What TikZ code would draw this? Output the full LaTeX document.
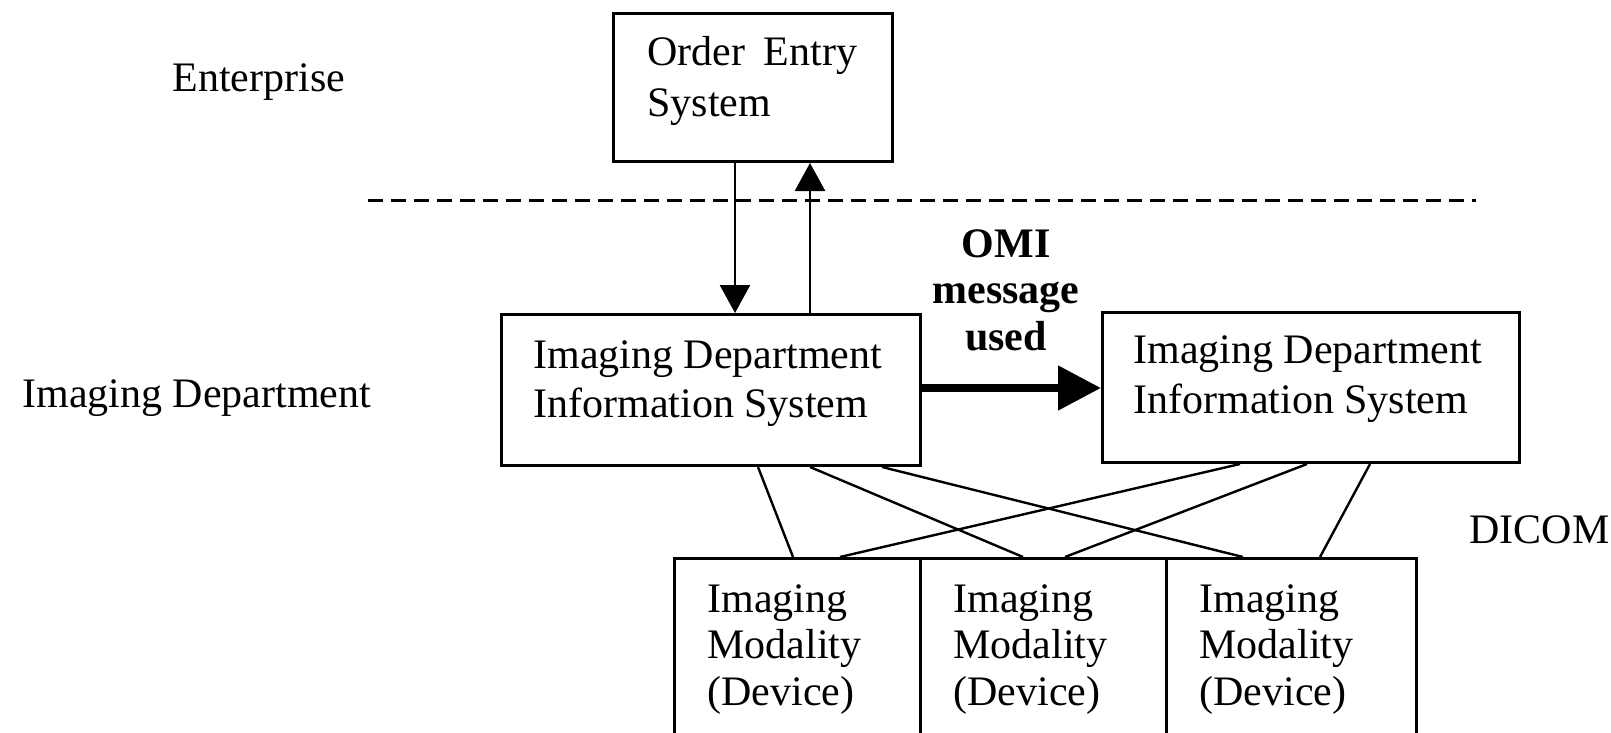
\documentclass[tikz,border=0pt]{standalone}
\usepackage{fontspec}
\setmainfont{Liberation Serif}
\usetikzlibrary{arrows.meta,calc}
\begin{document}
\begin{tikzpicture}[x=0.5pt,y=-0.5pt,
  box/.style={draw,line width=1.5pt,inner sep=0,anchor=north west},
  txt/.style={inner sep=0,anchor=base west,font=\fontsize{21}{24}\selectfont},
  btxt/.style={inner sep=0,anchor=base,font=\fontsize{21}{24}\selectfont\bfseries},
  sarrow/.style={line width=1.3pt,-{Triangle[length=14pt,width=15pt]}},
  barrow/.style={line width=4pt,-{Triangle[length=21.5pt,width=21.5pt]}},
  link/.style={line width=1.2pt},
  sep/.style={line width=1.5pt,dash pattern=on 7.5pt off 4pt}
]
\useasboundingbox (0,0) rectangle (1611,733);
\clip (0,0) rectangle (1611,733);

% boxes
\node[box,minimum width=139.5pt,minimum height=74pt] (oe) at (612,12) {};
\node[box,minimum width=209.5pt,minimum height=75.5pt] (idis1) at (500,313) {};
\node[box,minimum width=208.5pt,minimum height=75pt] (idis2) at (1101,311) {};
\node[box,minimum width=123pt,minimum height=125pt] (m1) at (673,557) {};
\node[box,minimum width=123pt,minimum height=125pt] (m2) at (919,557) {};
\node[box,minimum width=125pt,minimum height=125pt] (m3) at (1165,557) {};

% texts
\node[txt] (tent) at (172,92) {Enterprise};
\node[txt] (timg) at (22,407) {Imaging Department};
\node[txt] (tdic) at (1469,543) {DICOM};
\node[txt] (oe1) at (647,66) {Order\hspace{0.44em}Entry};
\node[txt] (oe2) at (647,117) {System};
\node[txt] (a1) at (533,368) {Imaging Department};
\node[txt] (a2) at (533,417) {Information System};
\node[txt] (b1) at (1133,363) {Imaging Department};
\node[txt] (b2) at (1133,413) {Information System};
\foreach \x/\n in {707/p,953/q,1199/r}{
  \node[txt] (\n1) at (\x,612) {Imaging};
  \node[txt] (\n2) at (\x,658) {Modality};
  \node[txt] (\n3) at (\x,705) {(Device)};
}
\node[btxt] (omi1) at (1006,257) {OMI};
\node[btxt] (omi2) at (1006,303) {message};
\node[btxt] (omi3) at (1006,350) {used};

% dashed separator
\coordinate (dl) at (368,200);
\coordinate (dr) at (1476,200);
\draw[sep] (dl) -- (dr);

% order arrows
\coordinate (da) at (735,0);
\coordinate (ua) at (810,0);
\draw[sarrow] (da |- oe.south) -- (da |- idis1.north);
\draw[sarrow] (ua |- idis1.north) -- (ua |- oe.south);

% OMI arrow
\coordinate (omy) at (0,388);
\draw[barrow] (idis1.east |- omy) -- (idis2.west |- omy);

% DICOM links
\draw[link] ($(idis1.south west)+(258,0)$) -- ($(m1.north west)+(120,0)$);
\draw[link] ($(idis1.south west)+(310,0)$) -- ($(m2.north west)+(104,0)$);
\draw[link] ($(idis1.south west)+(382,0)$) -- ($(m3.north west)+(78,0)$);
\draw[link] ($(idis2.south west)+(139,0)$) -- ($(m1.north west)+(167,0)$);
\draw[link] ($(idis2.south west)+(206,0)$) -- ($(m2.north west)+(146,0)$);
\draw[link] ($(idis2.south west)+(269,0)$) -- ($(m3.north west)+(155,0)$);
\end{tikzpicture}
\end{document}
